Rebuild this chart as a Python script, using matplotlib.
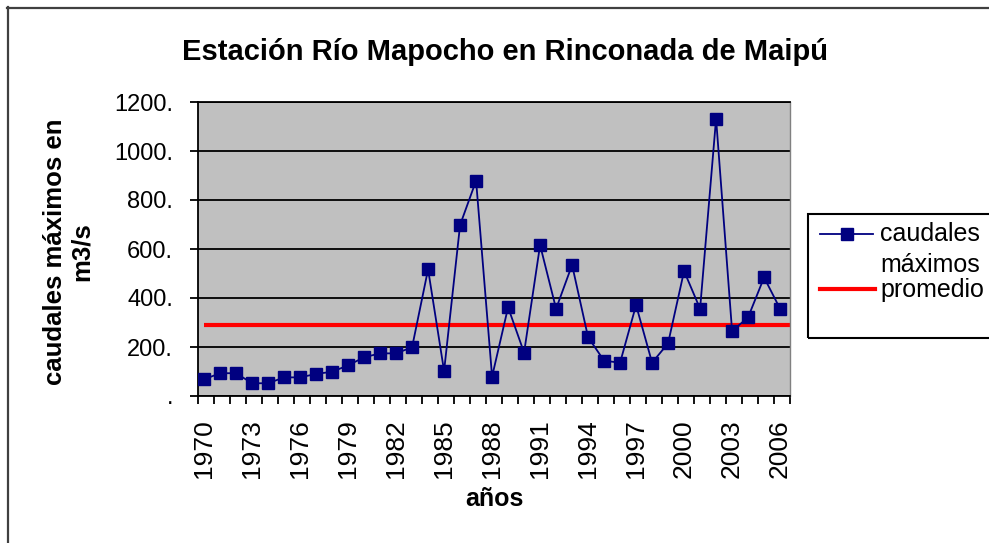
import numpy as np
import matplotlib
matplotlib.use("Agg")
import matplotlib.pyplot as plt
from matplotlib.lines import Line2D
from matplotlib.patches import Rectangle

plt.rcParams['font.family'] = ['Liberation Sans', 'DejaVu Sans']

# caudales maximos anuales (m3/s)
years = list(range(1970, 2007))
caudales = [68, 93, 93, 52, 52, 76, 76, 90, 99, 125,
            158, 174, 174, 199, 517, 102, 698, 879, 79, 362,
            177, 616, 356, 535, 240, 144, 136, 371, 136, 215,
            510, 356, 1132, 265, 321, 484, 356]
promedio = 289
label_years = list(range(1970, 2007, 3))
y_ticks = [0, 200, 400, 600, 800, 1000, 1200]

W, H = 989, 543
fig = plt.figure(figsize=(W / 100, H / 100), dpi=100)
fig.patch.set_facecolor('white')

def fx(px):
    return px / W

def fy(py):
    return 1 - py / H

# plot area
ax = fig.add_axes([fx(198), fy(396), fx(790) - fx(198), (396 - 102) / H])
ax.set_facecolor('#C0C0C0')

idx = np.arange(len(years))
ax.plot(idx, caudales, color='#000080', lw=1.3, marker='s', ms=8,
        mfc='#000080', mec='#000080', zorder=3)
ax.hlines(promedio, idx[0], 36.62, color='#FF0000', lw=3, zorder=2)

ax.set_xlim(-0.38, 36.62)
ax.set_ylim(0, 1200)

ax.set_yticks(y_ticks)
ax.set_yticklabels([f"{v}." if v else "." for v in y_ticks], fontsize=17)
ax.yaxis.grid(True, color='black', lw=1.3)
ax.set_axisbelow(True)
ax.tick_params(axis='y', direction='out', length=6, width=1.3, pad=12)

lab_pos = [years.index(y) for y in label_years]
ax.set_xticks(lab_pos)
ax.set_xticklabels([str(y) for y in label_years], rotation=90, fontsize=19)
ax.set_xticks(np.arange(-0.38, 36.7, 1), minor=True)
ax.tick_params(axis='x', which='major', length=0, pad=17)
ax.tick_params(axis='x', which='minor', direction='out', length=6, width=1.3)

for s in ['left', 'bottom', 'top']:
    ax.spines[s].set_color('black')
    ax.spines[s].set_linewidth(1.3)
ax.spines['right'].set_color('#808080')
ax.spines['right'].set_linewidth(1)

# titles
fig.text(fx(505), fy(52), "Estación Río Mapocho en Rinconada de Maipú",
         ha='center', va='center', fontsize=21, fontweight='bold')
fig.text(fx(494), fy(499), "años", ha='center', va='center',
         fontsize=18, fontweight='bold')
fig.text(fx(68), fy(252), "caudales máximos en\nm3/s", ha='center', va='center',
         rotation=90, multialignment='center', fontsize=18.5, fontweight='bold',
         linespacing=1.15)

# outer chart border
fig.add_artist(Line2D([fx(8), fx(8)], [fy(7), 0], transform=fig.transFigure,
                      color='#404040', lw=1.6))
fig.add_artist(Line2D([fx(7), 1], [fy(8), fy(8)], transform=fig.transFigure,
                      color='#404040', lw=1.6))

# legend
fig.add_artist(Rectangle((fx(808), fy(338)), 1 - fx(808) + 0.01, (338 - 214) / H,
                         transform=fig.transFigure, fill=False,
                         edgecolor='black', lw=1.5))
fig.add_artist(Line2D([fx(820), fx(873)], [fy(234), fy(234)], transform=fig.transFigure,
                      color='#000080', lw=1.3))
fig.add_artist(Line2D([fx(846.5)], [fy(234)], transform=fig.transFigure,
                      color='#000080', marker='s', ms=8, ls='none'))
fig.add_artist(Line2D([fx(820), fx(875)], [fy(289), fy(289)], transform=fig.transFigure,
                      color='#FF0000', lw=3))
fig.text(fx(880), fy(234), "caudales", ha='left', va='center', fontsize=18)
fig.text(fx(880), fy(265), "máximos", ha='left', va='center', fontsize=18)
fig.text(fx(880), fy(290), "promedio", ha='left', va='center', fontsize=18)

fig.savefig("out.png", dpi=100, facecolor='white')
